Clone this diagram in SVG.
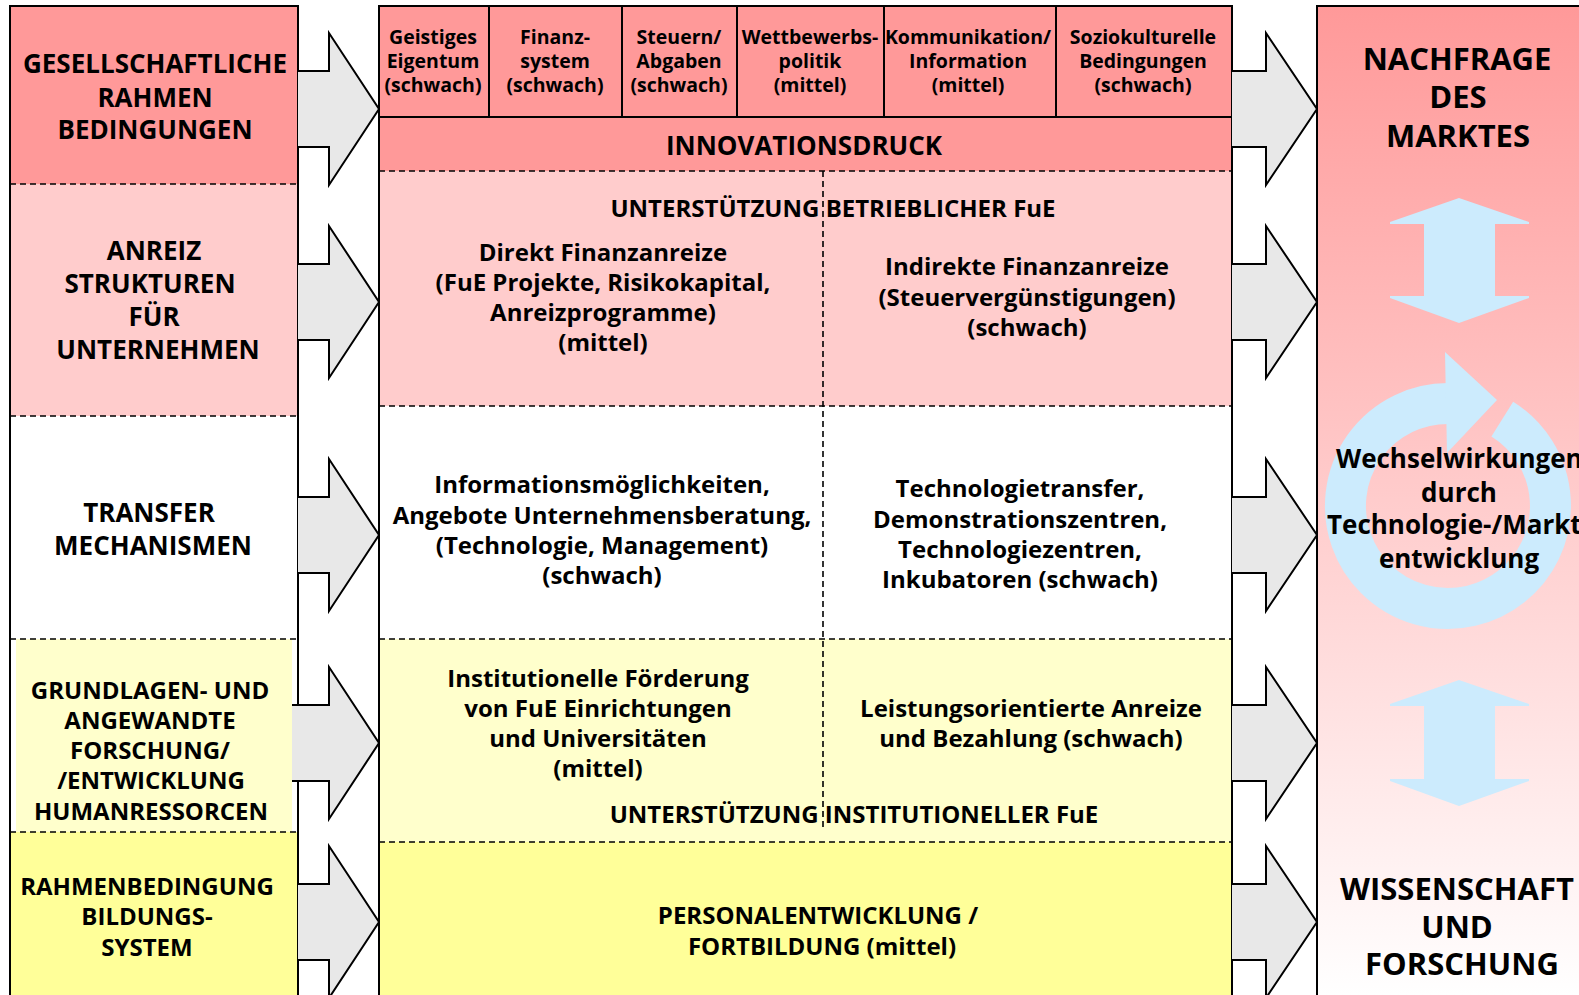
<svg xmlns="http://www.w3.org/2000/svg" width="1579" height="995" viewBox="0 0 1579 995">
<defs>
<linearGradient id="rg" x1="0" y1="0" x2="0" y2="1">
<stop offset="0" stop-color="#FF9999"/>
<stop offset="1" stop-color="#FFFFFF"/>
</linearGradient>
</defs>
<style>
.t{font-family:"Open Sans","Liberation Sans",Arial,sans-serif;font-weight:700;fill:#000;text-anchor:middle}
.s{text-anchor:start}
.f25{font-size:26px}
.f23{font-size:24px}
.f20{font-size:19.5px}
.f30{font-size:31px}
.f24{font-size:26px}
.dash{stroke:#000;stroke-width:1.6;stroke-dasharray:6 4;fill:none}
.solid{stroke:#000;stroke-width:2;fill:none}
.arrow{fill:#E8E8E8;stroke:#000;stroke-width:2;stroke-linejoin:miter}
.blue{fill:#CCEBFD}
</style>
<rect x="0" y="0" width="1579" height="995" fill="#FFFFFF"/>

<g id="left-column">
<g id="gesellschaftliche">
<rect x="10" y="6" width="288" height="178" fill="#FF9999"/>
<text class="t f25" x="155" y="73">GESELLSCHAFTLICHE</text>
<text class="t f25" x="155" y="107">RAHMEN</text>
<text class="t f25" x="155" y="139">BEDINGUNGEN</text>
</g>
<g id="anreiz">
<rect x="10" y="184" width="288" height="232" fill="#FFCCCC"/>
<text class="t f25" x="154" y="260">ANREIZ</text>
<text class="t f25" x="150" y="293">STRUKTUREN</text>
<text class="t f25" x="154" y="326">FÜR</text>
<text class="t f25" x="158" y="359">UNTERNEHMEN</text>
</g>
<g id="transfer">
<text class="t f25" x="149" y="522">TRANSFER</text>
<text class="t f25" x="153" y="555">MECHANISMEN</text>
</g>
<g id="grundlagen">
<rect x="16" y="639" width="276" height="193" fill="#FFFFCC"/>
<text class="t f23" x="150" y="699">GRUNDLAGEN- UND</text>
<text class="t f23" x="150" y="729">ANGEWANDTE</text>
<text class="t f23" x="150" y="759">FORSCHUNG/</text>
<text class="t f23" x="151" y="789">/ENTWICKLUNG</text>
<text class="t f23" x="151" y="820">HUMANRESSORCEN</text>
</g>
<g id="bildungssystem">
<rect x="10" y="832" width="288" height="163" fill="#FFFF99"/>
<text class="t f23" x="147" y="895">RAHMENBEDINGUNG</text>
<text class="t f23" x="147" y="925">BILDUNGS-</text>
<text class="t f23" x="147" y="956">SYSTEM</text>
</g>
<path class="dash" d="M10,184H298M10,416H298M10,639H298M10,832H298"/>
<path class="solid" d="M10,995V6H298V995"/>
</g>

<g id="middle-column">
<rect x="379" y="6" width="853" height="165" fill="#FF9999"/>
<rect x="379" y="171" width="853" height="235" fill="#FFCCCC"/>
<rect x="379" y="639" width="853" height="203" fill="#FFFFCC"/>
<rect x="379" y="842" width="853" height="153" fill="#FFFF99"/>
<path class="solid" d="M379,117H1232M489,6V117M622,6V117M737,6V117M884,6V117M1056,6V117"/>
<path class="dash" d="M379,171H1232M379,406H1232M379,639H1232M379,842H1232M823,171V830"/>
<path class="solid" d="M379,995V6H1232V995"/>
<g id="cell-eigentum">
<text class="t f20" x="433" y="44">Geistiges</text>
<text class="t f20" x="433" y="68">Eigentum</text>
<text class="t f20" x="433" y="92">(schwach)</text>
</g>
<g id="cell-finanzsystem">
<text class="t f20" x="555" y="44">Finanz-</text>
<text class="t f20" x="555" y="68">system</text>
<text class="t f20" x="555" y="92">(schwach)</text>
</g>
<g id="cell-steuern">
<text class="t f20" x="679" y="44">Steuern/</text>
<text class="t f20" x="679" y="68">Abgaben</text>
<text class="t f20" x="679" y="92">(schwach)</text>
</g>
<g id="cell-wettbewerb">
<text class="t f20" x="810" y="44">Wettbewerbs-</text>
<text class="t f20" x="810" y="68">politik</text>
<text class="t f20" x="810" y="92">(mittel)</text>
</g>
<g id="cell-kommunikation">
<text class="t f20" x="968" y="44">Kommunikation/</text>
<text class="t f20" x="968" y="68">Information</text>
<text class="t f20" x="968" y="92">(mittel)</text>
</g>
<g id="cell-soziokulturell">
<text class="t f20" x="1143" y="44">Soziokulturelle</text>
<text class="t f20" x="1143" y="68">Bedingungen</text>
<text class="t f20" x="1143" y="92">(schwach)</text>
</g>
<g id="innovationsdruck">
<text class="t f25" x="804" y="155">INNOVATIONSDRUCK</text>
</g>
<g id="betriebliche-fue">
<text class="t f23" x="833" y="217">UNTERSTÜTZUNG BETRIEBLICHER FuE</text>
<text class="t f23" x="603" y="261">Direkt Finanzanreize</text>
<text class="t f23" x="603" y="291">(FuE Projekte, Risikokapital,</text>
<text class="t f23" x="603" y="321">Anreizprogramme)</text>
<text class="t f23" x="603" y="351">(mittel)</text>
<text class="t f23" x="1027" y="275">Indirekte Finanzanreize</text>
<text class="t f23" x="1027" y="306">(Steuervergünstigungen)</text>
<text class="t f23" x="1027" y="336">(schwach)</text>
</g>
<g id="transfer-inhalte">
<text class="t f23" x="602" y="493">Informationsmöglichkeiten,</text>
<text class="t f23" x="602" y="524">Angebote Unternehmensberatung,</text>
<text class="t f23" x="602" y="554">(Technologie, Management)</text>
<text class="t f23" x="602" y="584">(schwach)</text>
<text class="t f23" x="1020" y="497">Technologietransfer,</text>
<text class="t f23" x="1020" y="528">Demonstrationszentren,</text>
<text class="t f23" x="1020" y="558">Technologiezentren,</text>
<text class="t f23" x="1020" y="588">Inkubatoren (schwach)</text>
</g>
<g id="institutionelle-fue">
<text class="t f23" x="598" y="687">Institutionelle Förderung</text>
<text class="t f23" x="598" y="717">von FuE Einrichtungen</text>
<text class="t f23" x="598" y="747">und Universitäten</text>
<text class="t f23" x="598" y="777">(mittel)</text>
<text class="t f23" x="1031" y="717">Leistungsorientierte Anreize</text>
<text class="t f23" x="1031" y="747">und Bezahlung (schwach)</text>
<text class="t f23" x="854" y="823">UNTERSTÜTZUNG INSTITUTIONELLER FuE</text>
</g>
<g id="personalentwicklung">
<text class="t f23" x="818" y="924">PERSONALENTWICKLUNG /</text>
<text class="t f23" x="822" y="955">FORTBILDUNG (mittel)</text>
</g>
</g>

<g id="right-column">
<rect x="1317" y="6" width="262" height="989" fill="url(#rg)"/>
<path class="solid" d="M1317,995V6H1579"/>
<g id="nachfrage">
<text class="t f30" x="1457" y="70">NACHFRAGE</text>
<text class="t f30" x="1458" y="108">DES</text>
<text class="t f30" x="1458" y="147">MARKTES</text>
</g>
<g id="double-arrow-top">
<polygon class="blue" points="1459,198 1529,222 1529,224 1495,224 1495,296 1529,296 1529,298 1459,323 1390,298 1390,296 1424,296 1424,224 1390,224 1390,222"/>
</g>
<g id="wechselwirkungen">
<path d="M1502.3,419.1 A102.5,102.5 0 1 1 1448,403.5" fill="none" stroke="#CCEBFD" stroke-width="41"/>
<polygon class="blue" points="1445,352 1497,400 1447,453"/>
<text class="t f24 s" x="1336" y="468">Wechselwirkungen</text>
<text class="t f24" x="1459" y="502">durch</text>
<text class="t f24 s" x="1327" y="534">Technologie-/Markt</text>
<text class="t f24" x="1459" y="568">entwicklung</text>
</g>
<g id="double-arrow-bottom">
<polygon class="blue" points="1459,680 1529,704 1529,706 1495,706 1495,779 1529,779 1529,781 1459,806 1390,781 1390,779 1424,779 1424,706 1390,706 1390,704"/>
</g>
<g id="wissenschaft">
<text class="t f30" x="1457" y="900">WISSENSCHAFT</text>
<text class="t f30" x="1457" y="938">UND</text>
<text class="t f30" x="1462" y="975">FORSCHUNG</text>
</g>
</g>

<g id="connectors">
<path class="arrow" d="M298,71H329V33L379,109L329,185V147H298"/>
<path class="arrow" d="M298,264H329V226L379,302L329,378V340H298"/>
<path class="arrow" d="M298,497H329V459L379,535L329,611V573H298"/>
<path class="arrow" d="M292,705H329V667L379,743L329,819V781H292"/>
<path class="arrow" d="M298,884H329V846L379,922L329,998V960H298"/>
<path class="arrow" d="M1232,71H1266V33L1317,109L1266,185V147H1232"/>
<path class="arrow" d="M1232,264H1266V226L1317,302L1266,378V340H1232"/>
<path class="arrow" d="M1232,497H1266V459L1317,535L1266,611V573H1232"/>
<path class="arrow" d="M1232,705H1266V667L1317,743L1266,819V781H1232"/>
<path class="arrow" d="M1232,884H1266V846L1317,922L1266,998V960H1232"/>
</g>
</svg>
